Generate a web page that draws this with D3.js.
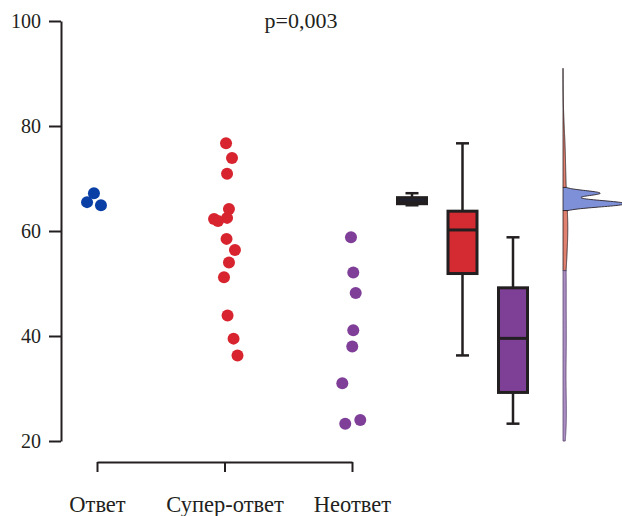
<!DOCTYPE html>
<html>
<head>
<meta charset="utf-8">
<script src="https://cdn.jsdelivr.net/npm/d3@7"></script>
<style>
  body { margin: 0; background: #fff; }
  svg text { font-family: "Liberation Serif", "Times New Roman", serif; fill: #231f20; }
</style>
</head>
<body>
<div id="chart"></div>
<script>
var width = 622;
var height = 516;

// groups and values
var categories = ["Ответ", "Супер-ответ", "Неответ"];
var otvetValues = [65.5, 67.2, 64.9];
var otvetJitter = [-0.078, -0.024, 0.031];
var superValues = [76.7, 73.9, 70.9, 64.2, 62.5, 62.3, 61.9, 58.5, 56.4, 54.0, 51.2, 43.9, 39.5, 36.3];
var superJitter = [0.012, 0.059, 0.02, 0.035, 0.02, -0.082, -0.051, 0.016, 0.082, 0.035, -0.004, 0.024, 0.071, 0.102];
var neValues = [58.8, 52.1, 48.2, 41.1, 38.0, 31.0, 24.0, 23.3];
var neJitter = [-0.008, 0.01, 0.029, 0.01, 0.002, -0.076, 0.065, -0.053];
var yTicks = [20, 40, 60, 80, 100];
var pLabel = "p=0,003";
var bandwidths = [0.5, 5, 5];
var densityRange = [20, 91];

var pointColors = ["#0a3fa6", "#d7242f", "#7f3f98"];
var boxColors = ["#1e2233", "#d42a32", "#7e3f97"];
var violinColors = ["#7d90d8", "#e0806f", "#ab8dc4"];
var ink = "#231f20";

var groups = categories.map(function(c, i) {
  return {
    name: c,
    values: [otvetValues, superValues, neValues][i],
    jitter: [otvetJitter, superJitter, neJitter][i],
    index: i
  };
});

var svg = d3.select("#chart").append("svg")
  .attr("width", width)
  .attr("height", height);

/* Scales */
var yScale = d3.scaleLinear().domain([20, 100]).range([441, 21]);
var xScale = d3.scalePoint().domain(categories).range([97, 352]);
var boxScale = d3.scalePoint().domain(categories).range([412, 513]);
var violinX = 563;
var boxWidth = 29;
var capWidth = 13;

/* Y axis */
var yAxis = d3.axisLeft(yScale).tickValues(yTicks).tickSize(12).tickSizeOuter(0).tickPadding(8);
var gy = svg.append("g")
  .attr("transform", "translate(61,0)")
  .call(yAxis);
gy.select(".domain").attr("stroke", ink).attr("stroke-width", 2);
gy.selectAll(".tick line").attr("stroke", ink).attr("stroke-width", 2);
gy.selectAll(".tick text").style("font-size", "20px").attr("fill", ink);

/* Bottom bracket with group names */
var xAxis = d3.axisBottom(xScale).tickSize(10).tickSizeOuter(0).tickPadding(24);
var gx = svg.append("g")
  .attr("transform", "translate(0,462)")
  .call(xAxis);
gx.select(".domain").attr("stroke", ink).attr("stroke-width", 2);
gx.selectAll(".tick line").attr("stroke", ink).attr("stroke-width", 2);
gx.selectAll(".tick text").style("font-size", "22.5px").attr("fill", ink);

/* p value */
svg.append("text")
  .attr("x", 301)
  .attr("y", 28)
  .attr("text-anchor", "middle")
  .style("font-size", "22px")
  .text(pLabel);

/* Points */
var step = xScale.step();
groups.forEach(function(g) {
  svg.append("g")
    .selectAll("circle")
    .data(g.values)
    .enter()
    .append("circle")
    .attr("cx", function(d, i) { return xScale(g.name) + g.jitter[i] * step; })
    .attr("cy", function(d) { return yScale(d); })
    .attr("r", 6)
    .style("fill", pointColors[g.index]);
});

/* Box plots */
groups.forEach(function(g) {
  var sorted = g.values.slice().sort(d3.ascending);
  var q1 = d3.quantile(sorted, 0.25);
  var med = d3.quantile(sorted, 0.5);
  var q3 = d3.quantile(sorted, 0.75);
  var lo = d3.min(sorted);
  var hi = d3.max(sorted);
  var cx = boxScale(g.name);
  var b = svg.append("g");

  b.append("line")
    .attr("x1", cx).attr("x2", cx)
    .attr("y1", yScale(hi)).attr("y2", yScale(lo))
    .attr("stroke", ink).attr("stroke-width", 2.5);
  [lo, hi].forEach(function(v) {
    b.append("line")
      .attr("x1", cx - capWidth / 2).attr("x2", cx + capWidth / 2)
      .attr("y1", yScale(v)).attr("y2", yScale(v))
      .attr("stroke", ink).attr("stroke-width", 2.5);
  });
  b.append("rect")
    .attr("x", cx - boxWidth / 2)
    .attr("width", boxWidth)
    .attr("y", yScale(q3))
    .attr("height", yScale(q1) - yScale(q3))
    .style("fill", boxColors[g.index])
    .attr("stroke", ink).attr("stroke-width", 3);
  b.append("line")
    .attr("x1", cx - boxWidth / 2).attr("x2", cx + boxWidth / 2)
    .attr("y1", yScale(med)).attr("y2", yScale(med))
    .attr("stroke", ink).attr("stroke-width", 3);
});

/* Half violin: density of the dominant group at each level */
function kde(values, h, v) {
  var s = 0;
  values.forEach(function(x) {
    var u = (v - x) / h;
    s += Math.exp(-0.5 * u * u);
  });
  return s / (values.length * h * Math.sqrt(2 * Math.PI));
}

var grid = d3.range(densityRange[0], densityRange[1] + 0.001, 0.05);
var dens = grid.map(function(v) {
  var ds = groups.map(function(g) { return kde(g.values, bandwidths[g.index], v); });
  var top = d3.maxIndex(ds);
  return { v: v, d: ds[top], g: top };
});
var wScale = d3.scaleLinear()
  .domain([0, d3.max(dens, function(d) { return d.d; })])
  .range([0, 62]);

groups.forEach(function(g) {
  var gi = g.index;
  var area = d3.area()
    .defined(function(d, i) {
      return d.g === gi ||
        (i > 0 && dens[i - 1].g === gi) ||
        (i < dens.length - 1 && dens[i + 1].g === gi);
    })
    .y(function(d) { return yScale(d.v); })
    .x0(violinX)
    .x1(function(d) { return violinX + wScale(d.d); });
  svg.append("path")
    .datum(dens)
    .attr("d", area)
    .style("fill", violinColors[gi])
    .attr("stroke", gi === 2 ? "#5e4a70" : "#2b2228")
    .attr("stroke-width", 0.9);
});
</script>
</body>
</html>
